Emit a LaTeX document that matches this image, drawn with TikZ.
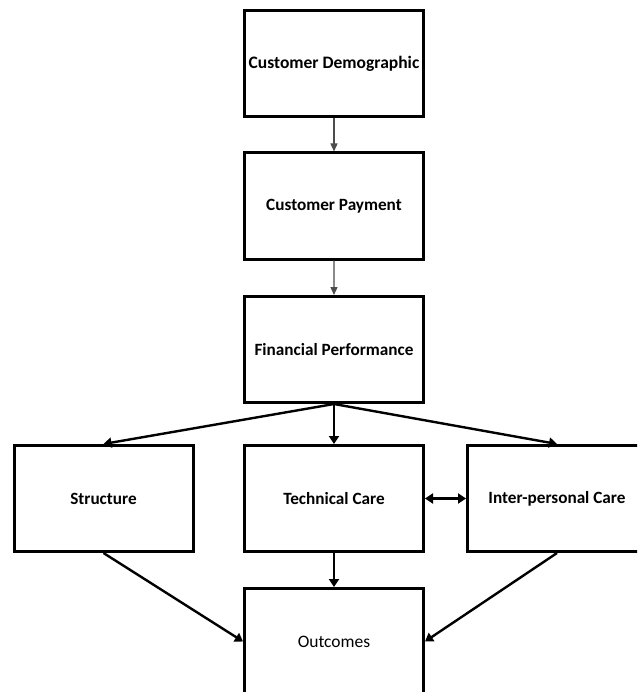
\documentclass[tikz,border=0pt]{standalone}
\usepackage{fontspec}
\setmainfont{Carlito}
\usetikzlibrary{arrows.meta}

\begin{document}
\begin{tikzpicture}
   [
    x=1pt, y=-1pt,
    grow=down,
    level 1/.style={level distance=142.5pt},
    level 2/.style={level distance=143.5pt},
    level 3/.style={sibling distance=227pt,level distance=149pt},
    level 4/.style={level distance=143pt},
    edge from parent/.style={draw=black!70, line width=1.3pt,
                             -{Triangle[width=7pt,length=8pt]}},
    edge from parent path={(\tikzparentnode.south) --(\tikzchildnode.north)},
    dik/.style={draw=black, line width=2.4pt,
                -{Triangle[width=10pt,length=8pt]}},
    every node/.style={inner sep=1pt},
    kasse/.style={rectangle, draw=black, line width=3pt,
    minimum width=179pt, minimum height=106pt,
    font=\bfseries\fontsize{17.2}{20}\selectfont}
    ]

\useasboundingbox (0,0) rectangle (637,692);
\clip (0,0) rectangle (637,692);

\node[kasse, font=\bfseries\fontsize{17.5}{20}\selectfont] (demo) at (334,63.5)
    {Customer Demographic}
    %lv1
    child {
      node[kasse] (betaling) {Customer Payment}
      %lv2
      child {
        node[kasse] (finans) {Financial Performance}
             % lv3 child 1
             child {
               node[kasse, xshift=-3.5pt] (struktur) {Structure}
                   edge from parent[dik]
             }
             % lv3 child 2
             child {
               node[kasse] (teknisk) {Technical Care}
                    % lv4
                    child {
                      node[kasse, font=\fontsize{17.5}{20}\selectfont] (utfall) {Outcomes}
                          edge from parent[dik]
                    }
                   edge from parent[dik]
             }
             % lv3 child 3
             child {
               node[kasse, xshift=-4pt] (inter) {Inter-personal Care}
                   edge from parent[dik]
             }
      }
    };

% cross links
\draw[dik] (struktur.south) -- (utfall.west);
\draw[dik] (inter.south) -- (utfall.east);
\draw[dik, {Triangle[width=10pt,length=8pt]}-{Triangle[width=10pt,length=8pt]}]
    (teknisk.east) -- (inter.west);

\end{tikzpicture}
\end{document}
